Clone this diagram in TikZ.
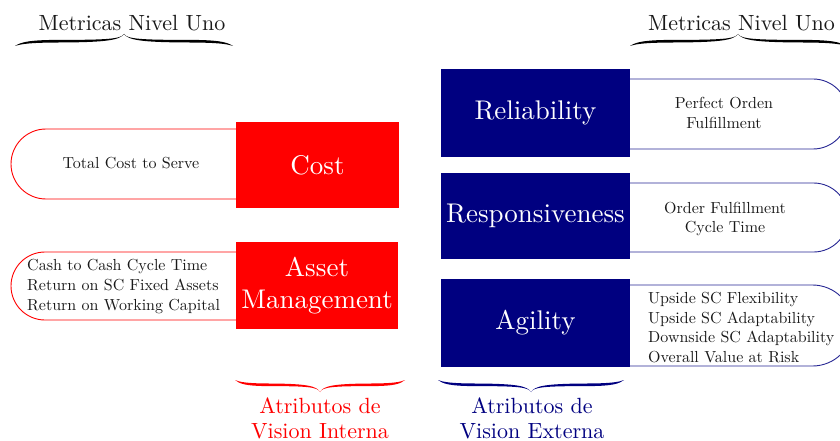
\documentclass[tikz,border=0pt]{standalone}
\usepackage{fontspec}
\setmainfont{lmroman10-regular.otf}
\usetikzlibrary{shapes.misc}

\definecolor{intred}{RGB}{255,0,0}
\definecolor{extnavy}{RGB}{0,0,128}
\definecolor{metricink}{RGB}{25,25,25}

\tikzset{
  attrbox/.style={inner sep=0pt, minimum width=#1, text=white, align=center,
    font=\fontsize{27}{32}\selectfont},
  pillleft/.style={draw=intred, line width=0.9pt, rounded rectangle,
    rounded rectangle east arc=none, inner sep=0pt},
  pillright/.style={draw=extnavy!85, line width=0.9pt, rounded rectangle,
    rounded rectangle west arc=none, inner sep=0pt},
  metric/.style={inner sep=0pt, text=metricink, font=\fontsize{16}{19.7}\selectfont},
  levellabel/.style={inner sep=0pt, text=metricink, font=\fontsize{22}{26}\selectfont},
  viewlabel/.style={inner sep=0pt, align=center, font=\fontsize{22}{25}\selectfont},
  % tapered curly brace; #1 = half length, drawn from its left end, tip pointing up
  pics/callibrace/.style={code={
    \fill (0,0) .. controls ({0.05*#1},-3.6) and ({0.12*#1},-6.1) .. ({0.4*#1},-6.1)
      .. controls ({0.85*#1},-6.1) and ({0.97*#1},-7) .. (#1,-12)
      .. controls ({0.96*#1},-6) and ({0.85*#1},-3.7) .. ({0.4*#1},-3.5)
      .. controls ({0.12*#1},-3.4) and ({0.05*#1},-1.8) .. cycle;
    \fill ({2*#1},0) .. controls ({1.95*#1},-3.6) and ({1.88*#1},-6.1) .. ({1.6*#1},-6.1)
      .. controls ({1.15*#1},-6.1) and ({1.03*#1},-7) .. (#1,-12)
      .. controls ({1.04*#1},-6) and ({1.15*#1},-3.7) .. ({1.6*#1},-3.5)
      .. controls ({1.88*#1},-3.4) and ({1.95*#1},-1.8) .. cycle;
  }}
}

\begin{document}
\begin{tikzpicture}[x=1pt,y=-1pt]
\useasboundingbox (0,0) rectangle (840,441);

% metric capsules (drawn first, boxes overlap their open side)
\node[pillleft, minimum width=239pt, minimum height=70pt] (costpill) at (130.5,164) {};
\node[pillleft, minimum width=239pt, minimum height=68pt] (assetpill) at (130.5,286) {};
\node[pillright, minimum width=228pt, minimum height=70pt] (relpill) at (734,114) {};
\node[pillright, minimum width=228pt, minimum height=69pt] (resppill) at (734,217.5) {};
\node[pillright, minimum width=233pt, minimum height=81pt] (agilpill) at (736.5,325.5) {};

% attribute boxes
\node[attrbox=163pt, minimum height=86pt, fill=intred] (cost) at (317.5,165) {Cost};
\node[attrbox=162pt, minimum height=87pt, fill=intred] (asset) at (317,285.5) {Asset\\Management};
\node[attrbox=189pt, minimum height=88pt, fill=extnavy] (rel) at (535.5,113) {Reliability};
\node[attrbox=189pt, minimum height=86pt, fill=extnavy] (resp) at (535.5,216) {Responsiveness};
\node[attrbox=189pt, minimum height=88pt, fill=extnavy] (agil) at (535.5,323) {Agility};

% metric texts
\node[metric] (costtxt) at (131,163) {Total Cost to Serve};
\node[metric, align=left, anchor=west] (assettxt) at (27,286.5)
  {Cash to Cash Cycle Time\\Return on SC Fixed Assets\\Return on Working Capital};
\node[metric, align=center] (reltxt) at (724,113) {Perfect Orden\\Fulfillment};
\node[metric, align=center] (resptxt) at (725,219) {Order Fulfillment\\Cycle Time};
\node[metric, align=left, anchor=west] (agiltxt) at (648,327.5)
  {Upside SC Flexibility\\Upside SC Adaptability\\Downside SC Adaptability\\Overall Value at Risk};

% level-one braces and labels
\pic[color=black] (bracetl) at (15,46) {callibrace=109};
\pic[color=black] (bracetr) at (630,46) {callibrace=108};
\node[levellabel, anchor=base] (lvlL) at (132,31) {Metricas Nivel Uno};
\node[levellabel, anchor=base] (lvlR) at (741.5,31) {Metricas Nivel Uno};

% attribute group braces (tip pointing down) and labels
\pic[color=intred, yscale=-1] (bracebl) at (235,380) {callibrace=85};
\pic[color=extnavy, yscale=-1] (bracebr) at (438,380) {callibrace=93};
\node[viewlabel, text=intred] (intlbl) at (320,418) {Atributos de\\Vision Interna};
\node[viewlabel, text=extnavy] (extlbl) at (532,418) {Atributos de\\Vision Externa};
\end{tikzpicture}
\end{document}
